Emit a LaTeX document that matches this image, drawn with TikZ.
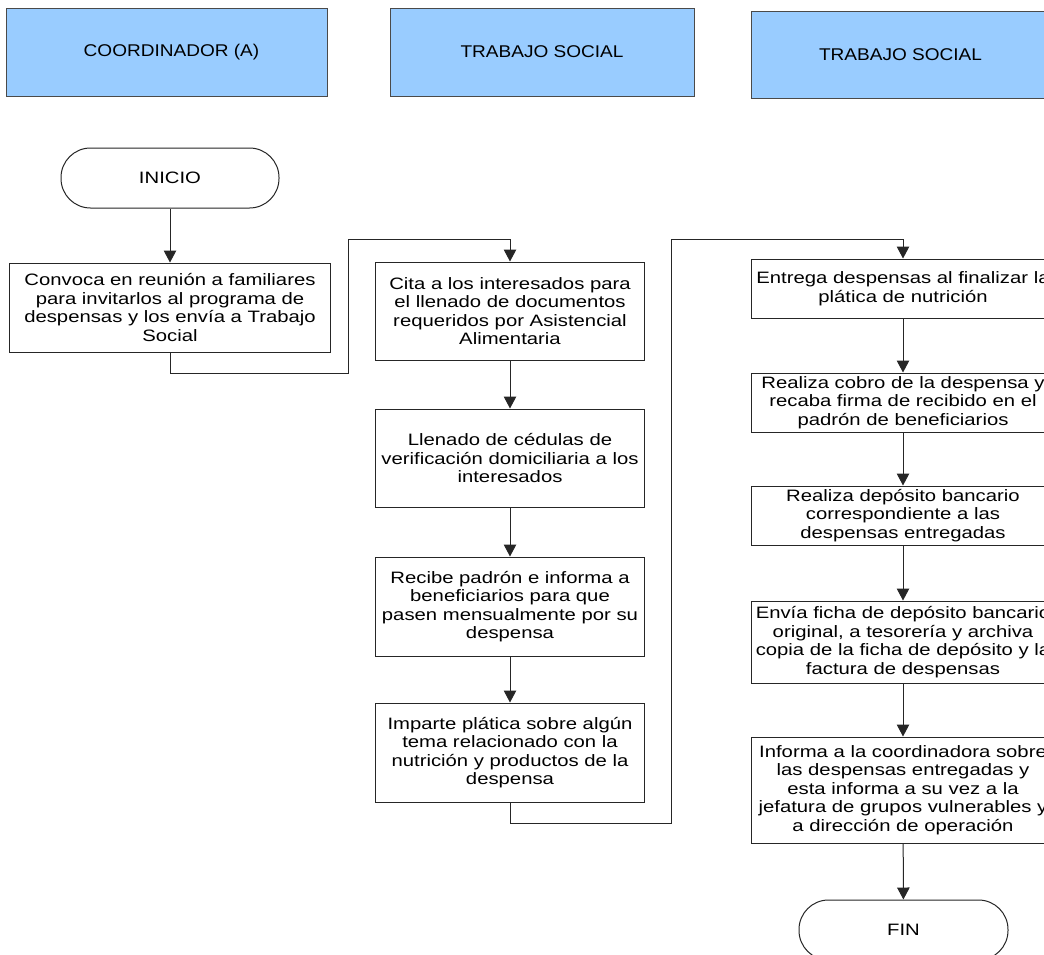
\documentclass[tikz,border=0pt]{standalone}
\usepackage{fontspec}
\setmainfont{Liberation Sans}[FakeStretch=1.23]
\newfontfamily\lanefont{Liberation Sans}[FakeStretch=1.12]
\usetikzlibrary{arrows.meta}
\definecolor{lanefill}{HTML}{99CCFF}
\definecolor{edge}{HTML}{262626}
\definecolor{laneedge}{HTML}{4A4A4A}

\begin{document}
\begin{tikzpicture}[x=1pt,y=-1pt,
  every node/.style={font=\fontsize{16.5}{18.5}\selectfont, inner sep=0pt, align=center},
  lane/.style={draw=laneedge, fill=lanefill, line width=1pt,
               font=\lanefont\fontsize{17}{20}\selectfont},
  proc/.style={draw=edge, line width=1pt, fill=white},
  term/.style={draw=edge, line width=1pt, fill=white, rounded corners=29.5pt},
  flow/.style={draw=edge, line width=1pt, -{Triangle[width=12.5pt,length=12pt]}}]

\useasboundingbox (0,0) rectangle (1044,954);
\clip (0,0) rectangle (1044,954);

% swimlane headers
\node[lane, minimum width=321pt, minimum height=88pt] (h1) at (166.5,52) {\hspace*{10pt}COORDINADOR (A)};
\node[lane, minimum width=304pt, minimum height=88pt] (h2) at (542,52) {TRABAJO SOCIAL};
\node[lane, minimum width=299pt, minimum height=87pt] (h3) at (900.5,54.5) {TRABAJO SOCIAL};

% coordinator lane
\node[term, minimum width=218pt, minimum height=60pt] (inicio) at (170,178) {INICIO};
\node[proc, minimum width=321pt, minimum height=89pt] (b1) at (170,307.5)
  {Convoca en reunión a familiares\\para invitarlos al programa de\\despensas y los envía a Trabajo\\Social};

% first social work lane
\node[proc, minimum width=269pt, minimum height=98pt] (b2) at (510,311)
  {Cita a los interesados para\\el llenado de documentos\\requeridos por Asistencial\\Alimentaria};
\node[proc, minimum width=269pt, minimum height=98pt] (b3) at (510,458)
  {Llenado de cédulas de\\verificación domiciliaria a los\\interesados};
\node[proc, minimum width=269pt, minimum height=99pt] (b4) at (510,606.5)
  {Recibe padrón e informa a\\beneficiarios para que\\pasen mensualmente por su\\despensa};
\node[proc, minimum width=269pt, minimum height=99pt] (b5) at (510,752.5)
  {Imparte plática sobre algún\\tema relacionado con la\\nutrición y productos de la\\despensa};

% second social work lane
\node[proc, minimum width=304pt, minimum height=59pt] (b6) at (903,288.5)
  {Entrega despensas al finalizar la\\plática de nutrición};
\node[proc, minimum width=304pt, minimum height=59pt] (b7) at (903,402.5)
  {Realiza cobro de la despensa y\\recaba firma de recibido en el\\padrón de beneficiarios};
\node[proc, minimum width=304pt, minimum height=59pt] (b8) at (903,515.5)
  {Realiza depósito bancario\\correspondiente a las\\despensas entregadas};
\node[proc, minimum width=304pt, minimum height=82pt] (b9) at (903,642)
  {Envía ficha de depósito bancario\\original, a tesorería y archiva\\copia de la ficha de depósito y la\\factura de despensas};
\node[proc, minimum width=304pt, minimum height=106pt] (b10) at (903,790)
  {Informa a la coordinadora sobre\\las despensas entregadas y\\esta informa a su vez a la\\jefatura de grupos vulnerables y\\a dirección de operación};
\node[term, minimum width=209pt, minimum height=60pt] (fin) at (903.5,930) {FIN};

% routing points of the lane-crossing connectors
\coordinate (r1) at (348,373);
\coordinate (r2) at (348,239);
\coordinate (r3) at (671,823);
\coordinate (r4) at (671,239);

% connectors
\draw[flow] (inicio) -- (b1);
\draw[flow] (b1.south) |- (r1) -- (r2) -| (b2.north);
\draw[flow] (b2) -- (b3);
\draw[flow] (b3) -- (b4);
\draw[flow] (b4) -- (b5);
\draw[flow] (b5.south) |- (r3) -- (r4) -| (b6.north);
\draw[flow] (b6) -- (b7);
\draw[flow] (b7) -- (b8);
\draw[flow] (b8) -- (b9);
\draw[flow] (b9) -- (b10);
\draw[flow] (b10) -- (fin);
\end{tikzpicture}
\end{document}
